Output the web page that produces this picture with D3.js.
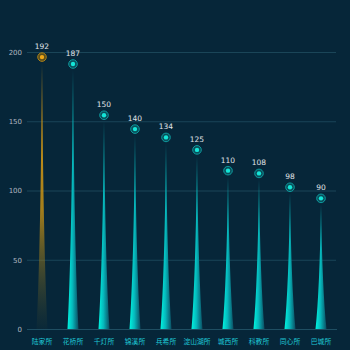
<!DOCTYPE html>
<html><head><meta charset="utf-8">
<script src="https://cdn.jsdelivr.net/npm/d3@7"></script>
<style>html,body{margin:0;padding:0;background:#06263a;}svg{display:block;}</style>
</head><body>
<svg id="c" width="350" height="350"></svg>
<script>
const categories = ["陆家所","花桥所","千灯所","锦溪所","兵希所","淀山湖所","城西所","科教所","同心所","巴城所"];
const values = [192,187,150,140,134,125,110,108,98,90];
const yTicks = [0,50,100,150,200];

const W=350,H=350;
const svg=d3.select("#c");
svg.append("rect").attr("width",W).attr("height",H).attr("fill","#062639");
const x=d3.scaleBand().domain(categories).range([26.5,336.5]).padding(0);
const y=d3.scaleLinear().domain([0,200]).range([329,52]);

const defs=svg.append("defs");
const gc=defs.append("linearGradient").attr("id","gc").attr("x1","0").attr("x2","1").attr("y1","0").attr("y2","0");
gc.append("stop").attr("offset","0").attr("stop-color","#00f5e0");
gc.append("stop").attr("offset","0.45").attr("stop-color","#06b8bc");
gc.append("stop").attr("offset","1").attr("stop-color","#0b4d62");
const go=defs.append("linearGradient").attr("id","go").attr("x1","0").attr("x2","0").attr("y1","0").attr("y2","1");
go.append("stop").attr("offset","0").attr("stop-color","#e6a313").attr("stop-opacity",1);
go.append("stop").attr("offset","0.55").attr("stop-color","#c08e16").attr("stop-opacity",0.85);
go.append("stop").attr("offset","1").attr("stop-color","#5a5a2a").attr("stop-opacity",0.05);

// grid
const yAxis=d3.axisLeft(y).tickValues(yTicks).tickSize(-(336-27)).tickPadding(5);
const ga=svg.append("g").attr("transform","translate(27,0)").call(yAxis);
ga.select(".domain").remove();
ga.selectAll(".tick line").attr("stroke","#1a4558").attr("stroke-width",1);
ga.selectAll(".tick text").attr("fill","#b0b8c0").attr("font-size","7px").attr("font-family","DejaVu Sans, sans-serif");

// x axis
const xAxis=d3.axisBottom(x).tickSize(0).tickPadding(10);
const gx=svg.append("g").attr("transform","translate(0,329)").call(xAxis);
gx.select(".domain").attr("stroke","#1f4e62");
gx.selectAll(".tick text").attr("fill","#1fc8d8").attr("font-size","6.8px").attr("font-family","'Noto Sans CJK SC', sans-serif");

// spikes
const w=5.5;
svg.append("g").selectAll("path").data(values).join("path")
 .attr("d",(v,i)=>{const cx=x(categories[i])+x.bandwidth()/2, y0=y(0), yt=y(v), h=y0-yt;
   return `M${cx-w},${y0} Q${cx-w*0.25},${y0-h*0.3} ${cx},${yt} Q${cx+w*0.25},${y0-h*0.3} ${cx+w},${y0} Z`;})
 .attr("fill",(v,i)=>i===0?"url(#go)":"url(#gc)");

// markers
const mk=svg.append("g").selectAll("g").data(values).join("g")
 .attr("transform",(v,i)=>`translate(${x(categories[i])+x.bandwidth()/2},${y(v)-6})`);
mk.append("circle").attr("r",4.3).attr("fill",(v,i)=>i===0?"#5a4e1c":"#0a4e5a").attr("stroke",(v,i)=>i===0?"#a8801a":"#0e9a9e").attr("stroke-width",1);
mk.append("circle").attr("r",2.2).attr("fill",(v,i)=>i===0?"#f0a818":"#14e6d8");

// value labels
svg.append("g").selectAll("text").data(values).join("text")
 .attr("x",(v,i)=>x(categories[i])+x.bandwidth()/2).attr("y",(v,i)=>y(v)-14)
 .attr("text-anchor","middle").attr("fill","#e0e4e8").attr("font-size","7.5px")
 .attr("font-family","DejaVu Sans, sans-serif").text(v=>v);
</script>
</body></html>
